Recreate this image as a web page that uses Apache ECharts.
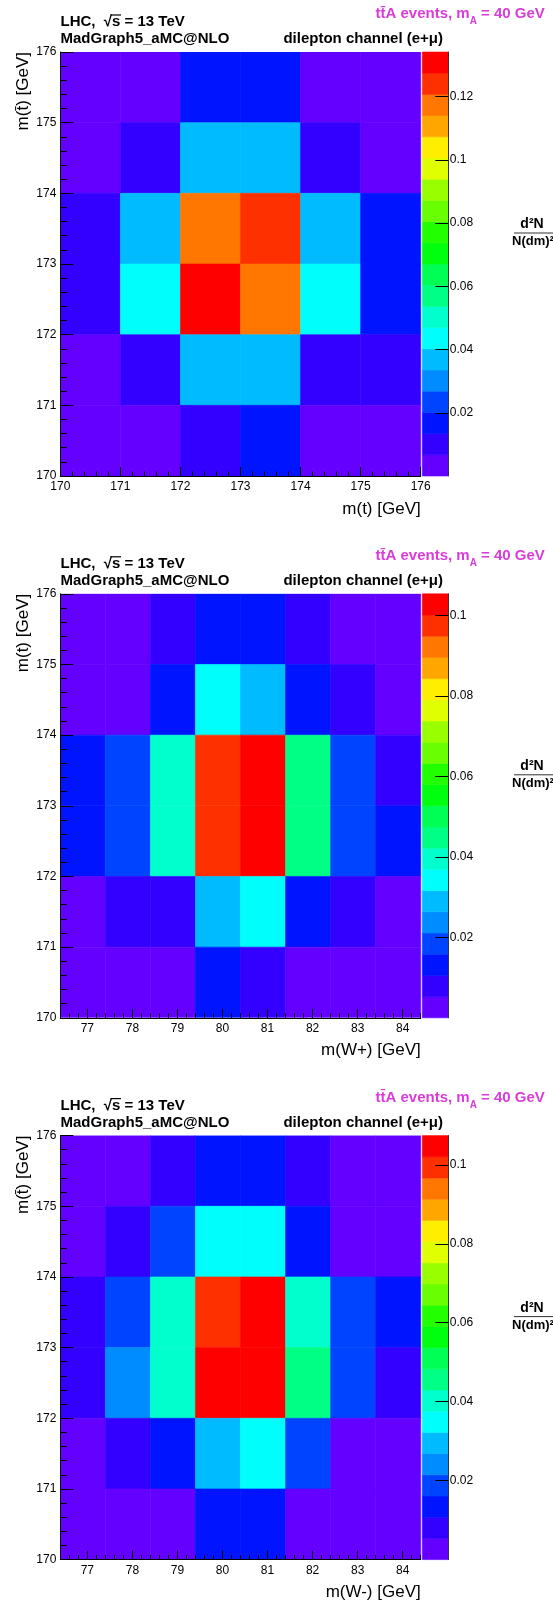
<!DOCTYPE html>
<html><head><meta charset="utf-8">
<script src="https://cdn.jsdelivr.net/npm/echarts@6/dist/echarts.min.js"></script>
<style>html,body{margin:0;padding:0;background:#fff}#c{width:553px;height:1604px}</style>
</head><body><div id="c"></div>
<script>
// ---------------- data ----------------
const mtEdges = [170, 171, 172, 173, 174, 175, 176];
const mWEdges = [76.4, 77.4, 78.4, 79.4, 80.4, 81.4, 82.4, 83.4, 84.4];
const mtTicks = [170, 171, 172, 173, 174, 175, 176];
const mWTicks = [77, 78, 79, 80, 81, 82, 83, 84];
const zTicksTT = [0.02, 0.04, 0.06, 0.08, 0.1, 0.12];
const zTicksW = [0.02, 0.04, 0.06, 0.08, 0.1];
// rows listed from top (175-176) to bottom (170-171)
const valsTopTbar = [
  [0.004, 0.005, 0.016, 0.017, 0.005, 0.004],
  [0.005, 0.011, 0.037, 0.038, 0.011, 0.005],
  [0.012, 0.037, 0.117, 0.124, 0.036, 0.016],
  [0.012, 0.043, 0.1341, 0.118, 0.044, 0.016],
  [0.005, 0.011, 0.037, 0.037, 0.011, 0.010],
  [0.003, 0.005, 0.011, 0.016, 0.005, 0.004]
];
const valsWplusTop = [
  [0.003, 0.004, 0.008, 0.013, 0.013, 0.008, 0.004, 0.003],
  [0.003, 0.004, 0.013, 0.034, 0.029, 0.013, 0.008, 0.004],
  [0.013, 0.018, 0.039, 0.097, 0.103, 0.045, 0.018, 0.008],
  [0.013, 0.018, 0.040, 0.098, 0.1054, 0.045, 0.018, 0.013],
  [0.003, 0.008, 0.009, 0.029, 0.034, 0.013, 0.008, 0.004],
  [0.002, 0.003, 0.004, 0.013, 0.008, 0.004, 0.003, 0.002]
];
const valsWminusTbar = [
  [0.003, 0.004, 0.008, 0.013, 0.013, 0.008, 0.004, 0.003],
  [0.003, 0.008, 0.019, 0.035, 0.035, 0.013, 0.004, 0.003],
  [0.008, 0.018, 0.040, 0.099, 0.104, 0.040, 0.018, 0.013],
  [0.008, 0.024, 0.041, 0.1074, 0.105, 0.045, 0.019, 0.008],
  [0.003, 0.008, 0.013, 0.030, 0.035, 0.018, 0.004, 0.003],
  [0.002, 0.003, 0.004, 0.013, 0.013, 0.004, 0.003, 0.002]
];
const xTitles = ['m(t) [GeV]', 'm(W+) [GeV]', 'm(W-) [GeV]'];
const yTitles = ['m(t\u0304) [GeV]', 'm(t) [GeV]', 'm(t\u0304) [GeV]'];
const headerLeft1 = 'LHC,  \u221As = 13 TeV';
const headerLeft2 = 'MadGraph5_aMC@NLO';
const headerRight = 'dilepton channel (e+\u03BC)';
const zTitleNum = 'd\u00B2N';
const zTitleDen = 'N(dm)\u00B2';

// ---------------- style ----------------
const palette = ['#6300ff','#3300ff','#0014ff','#0044ff','#008bff','#00bbff','#00fffc','#00ffcc','#00ff85','#00ff55',
                 '#00ff0e','#22ff00','#69ff00','#99ff00','#e0ff00','#ffee00','#ffa700','#ff7700','#ff3000','#ff0000'];
const FF = '"Liberation Sans", Arial, Helvetica, sans-serif';
const MAG = '#d93cd9';
const L = 60.3, W = 360.4, CBL = 422.3, CBW = 26, H = 424;
const tops = [52, 593.8, 1135.6];

const panels = [
  {vals: valsTopTbar, xEdges: mtEdges, xTicks: mtTicks, zTicks: zTicksTT},
  {vals: valsWplusTop, xEdges: mWEdges, xTicks: mWTicks, zTicks: zTicksW},
  {vals: valsWminusTbar, xEdges: mWEdges, xTicks: mWTicks, zTicks: zTicksW}
];

const grids = [], xAxes = [], yAxes = [], series = [], graphics = [];

function minorList(a, b) {
  const out = [];
  for (let v = Math.round(a * 5); v <= Math.round(b * 5); v++) out.push(v / 5);
  return out;
}
const blk = {color: '#000', width: 1};

panels.forEach((p, k) => {
  const T = tops[k];
  const zmax = Math.max(...p.vals.flat());
  const gi = grids.length;
  grids.push({left: L, top: T, width: W, height: H, show: false});
  grids.push({left: CBL, top: T, width: CBW, height: H, show: false});
  const xMin = p.xEdges[0], xMax = p.xEdges[p.xEdges.length - 1];
  const yMin = mtEdges[0], yMax = mtEdges[mtEdges.length - 1];
  const xi = xAxes.length, yi = yAxes.length;
  // main x axis
  xAxes.push({type: 'value', gridIndex: gi, min: xMin, max: xMax, position: 'bottom', z: 10,
    axisLine: {show: true, onZero: false, lineStyle: blk},
    axisTick: {show: true, inside: true, length: 9, customValues: p.xTicks, lineStyle: blk},
    axisLabel: {show: true, customValues: p.xTicks, margin: 5, fontSize: 12, color: '#000', fontFamily: FF},
    splitLine: {show: false}});
  xAxes.push({type: 'value', gridIndex: gi, min: xMin, max: xMax, position: 'bottom', z: 10,
    axisLine: {show: false},
    axisTick: {show: true, inside: true, length: 4.5, customValues: minorList(xMin, xMax), lineStyle: blk},
    axisLabel: {show: false}, splitLine: {show: false}});
  xAxes.push({type: 'value', gridIndex: gi + 1, min: 0, max: 1, show: false});
  // y axes
  yAxes.push({type: 'value', gridIndex: gi, min: yMin, max: yMax, position: 'left', z: 10,
    axisLine: {show: true, onZero: false, lineStyle: blk},
    axisTick: {show: true, inside: true, length: 13, customValues: mtTicks, lineStyle: blk},
    axisLabel: {show: true, customValues: mtTicks, margin: 4, fontSize: 12, color: '#000', fontFamily: FF},
    splitLine: {show: false}});
  yAxes.push({type: 'value', gridIndex: gi, min: yMin, max: yMax, position: 'left', z: 10,
    axisLine: {show: false},
    axisTick: {show: true, inside: true, length: 6.5, customValues: minorList(yMin, yMax), lineStyle: blk},
    axisLabel: {show: false}, splitLine: {show: false}});
  yAxes.push({type: 'value', gridIndex: gi + 1, min: 0, max: zmax, position: 'right', z: 10,
    axisLine: {show: true, onZero: false, lineStyle: {color: '#333', width: 1}},
    axisTick: {show: true, inside: true, length: 13, customValues: p.zTicks, lineStyle: blk},
    axisLabel: {show: true, customValues: p.zTicks, margin: 1.5, fontSize: 12, color: '#000', fontFamily: FF,
      formatter: v => String(+(+v).toFixed(3))},
    splitLine: {show: false}});

  // heatmap cells
  const nR = p.vals.length;
  const data = [];
  p.vals.forEach((row, r) => row.forEach((v, c) => {
    data.push([p.xEdges[c], p.xEdges[c + 1], mtEdges[nR - 1 - r], mtEdges[nR - r], v]);
  }));
  series.push({type: 'custom', xAxisIndex: xi, yAxisIndex: yi, data, z: 2, silent: true, animation: false,
    encode: {x: [0, 1], y: [2, 3]}, clip: true,
    renderItem: (params, api) => {
      const p0 = api.coord([api.value(0), api.value(3)]);
      const p1 = api.coord([api.value(1), api.value(2)]);
      const v = api.value(4);
      const j = Math.max(0, Math.min(19, Math.floor(v / zmax * 20)));
      return {type: 'rect', shape: {x: p0[0], y: p0[1], width: p1[0] - p0[0], height: p1[1] - p0[1]},
        style: {fill: palette[j], stroke: palette[j], lineWidth: 0.6}};
    }});
  // colour bar
  const cb = palette.map((c, j) => [j * zmax / 20, (j + 1) * zmax / 20, j]);
  series.push({type: 'custom', xAxisIndex: xi + 2, yAxisIndex: yi + 2, data: cb, z: 2, silent: true, animation: false,
    encode: {y: [0, 1]},
    renderItem: (params, api) => {
      const p0 = api.coord([0, api.value(1)]);
      const p1 = api.coord([1, api.value(0)]);
      const j = api.value(2);
      return {type: 'rect', shape: {x: p0[0], y: p0[1], width: p1[0] - p0[0], height: p1[1] - p0[1]},
        style: {fill: palette[j], stroke: palette[j], lineWidth: 0.6}};
    }});

  // texts
  const bold15 = 'bold 15px ' + FF;
  graphics.push({type: 'text', x: 375.5, y: T - 35.5, z: 20, style: {
    text: '{a|tt\u0304A events, m}{s|A}{a| = 40 GeV}', textAlign: 'left', textVerticalAlign: 'middle',
    rich: {a: {fontSize: 15, fontWeight: 'bold', fontFamily: FF, fill: MAG, lineHeight: 20, verticalAlign: 'top'},
           s: {fontSize: 10, fontWeight: 'bold', fontFamily: FF, fill: MAG, lineHeight: 10, verticalAlign: 'bottom'}}}});
  graphics.push({type: 'text', x: 60.5, y: T - 30, z: 20, style: {text: headerLeft1, font: bold15, fill: '#000',
    textAlign: 'left', textVerticalAlign: 'middle'}});
  graphics.push({type: 'line', z: 20, shape: {x1: 110.5, y1: T - 37, x2: 121, y2: T - 37}, style: {stroke: '#000', lineWidth: 1.2}});
  graphics.push({type: 'text', x: 60.5, y: T - 13, z: 20, style: {text: headerLeft2, font: bold15, fill: '#000',
    textAlign: 'left', textVerticalAlign: 'middle'}});
  graphics.push({type: 'text', x: 443, y: T - 13, z: 20, style: {text: headerRight, font: bold15, fill: '#000',
    textAlign: 'right', textVerticalAlign: 'middle'}});
  graphics.push({type: 'text', x: L + W, y: T + H + 33, z: 20, style: {text: xTitles[k], font: '17px ' + FF, fill: '#000',
    textAlign: 'right', textVerticalAlign: 'middle'}});
  graphics.push({type: 'text', x: 23.5, y: T, rotation: Math.PI / 2, z: 20, style: {text: yTitles[k], font: '17px ' + FF, fill: '#000',
    textAlign: 'right', textVerticalAlign: 'middle'}});
  graphics.push({type: 'text', x: 532, y: T + 172.5, z: 20, style: {text: zTitleNum, font: 'bold 14px ' + FF, fill: '#000',
    textAlign: 'center', textVerticalAlign: 'middle'}});
  graphics.push({type: 'line', z: 20, shape: {x1: 514, y1: T + 181, x2: 553, y2: T + 181}, style: {stroke: '#333', lineWidth: 1}});
  graphics.push({type: 'text', x: 533, y: T + 189.5, z: 20, style: {text: zTitleDen, font: 'bold 13px ' + FF, fill: '#000',
    textAlign: 'center', textVerticalAlign: 'middle'}});
});

const chart = echarts.init(document.getElementById('c'), null, {renderer: 'canvas', width: 553, height: 1604});
chart.setOption({
  animation: false,
  backgroundColor: '#fff',
  grid: grids, xAxis: xAxes, yAxis: yAxes, series: series,
  graphic: {elements: graphics}
});
</script></body></html>
